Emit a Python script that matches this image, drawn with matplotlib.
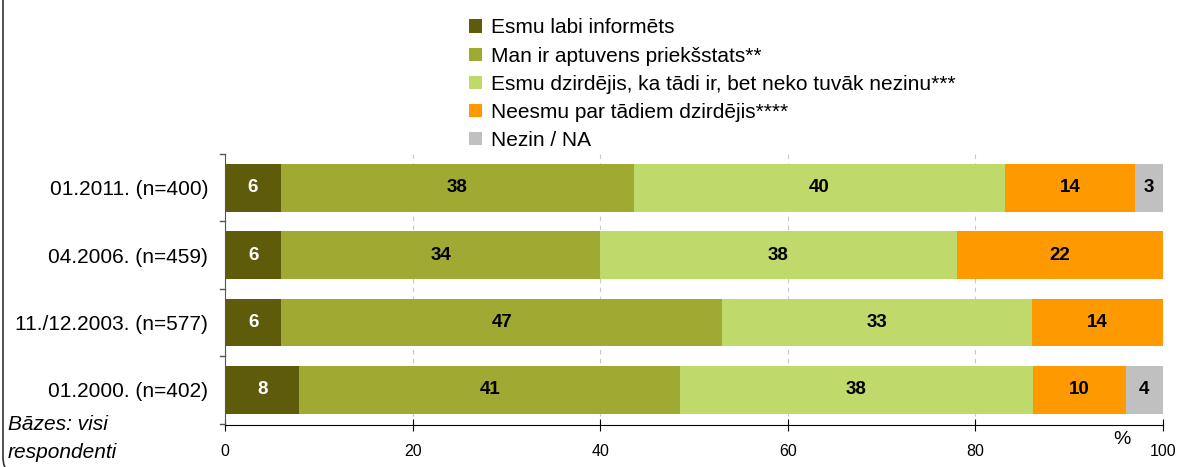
import matplotlib
matplotlib.use("Agg")
import matplotlib.pyplot as plt
from matplotlib.patches import FancyBboxPatch
import numpy as np

# data (percent, rounded as printed)
rows = ["01.2011. (n=400)", "04.2006. (n=459)", "11./12.2003. (n=577)", "01.2000. (n=402)"]
series = [
    "Esmu labi informēts",
    "Man ir aptuvens priekšstats**",
    "Esmu dzirdējis, ka tādi ir, bet neko tuvāk nezinu***",
    "Neesmu par tādiem dzirdējis****",
    "Nezin / NA",
]
labi = [6, 6, 6, 8]
aptuvens = [38, 34, 47, 41]
dzirdejis = [40, 38, 33, 38]
neesmu = [14, 22, 14, 10]
nezin = [3, 0, 0, 4]

colors = ["#5E5B0B", "#A0AA33", "#BFD96A", "#FF9900", "#C0C0C0"]
text_colors = ["white", "black", "black", "black", "black"]

vals = np.array([labi, aptuvens, dzirdejis, neesmu, nezin], dtype=float)
# rows printed as rounded numbers may sum to 101 -> scale each row to 100
widths = vals / vals.sum(axis=0) * 100

plt.rcParams["font.family"] = ["Liberation Sans", "DejaVu Sans"]

fig = plt.figure(figsize=(11.8, 4.67), dpi=100)
ax = fig.add_axes([225 / 1180, 1 - 425 / 467, 938 / 1180, (425 - 154) / 467])

ypos = np.arange(len(rows))[::-1]
left = np.zeros(len(rows))
for i in range(len(series)):
    ax.barh(ypos, widths[i], left=left, height=0.71, color=colors[i],
            label=series[i], zorder=2)
    for j in range(len(rows)):
        if vals[i][j] > 0:
            ax.text(left[j] + widths[i][j] / 2, ypos[j], "%d" % vals[i][j],
                    ha="center", va="center", fontsize=13.5, fontweight="bold",
                    color=text_colors[i], zorder=3)
    left = left + widths[i]

ax.set_xlim(0, 100)
ax.set_ylim(-0.52, 3.5)
ax.set_xticks([0, 20, 40, 60, 80, 100])
ax.tick_params(axis="x", direction="inout", length=8, labelsize=11.5, pad=10)
ax.set_yticks(ypos)
ax.set_yticklabels(rows, fontsize=15)
ax.tick_params(axis="y", length=0, pad=12)
# small tick marks between categories on the left axis
for b in [-0.5, 0.5, 1.5, 2.5, 3.5]:
    ax.plot([-0.0055, 0], [b, b], color="#555555", lw=1, transform=ax.get_yaxis_transform(),
            clip_on=False)
ax.grid(axis="x", color="#C8C8C8", linestyle=(0, (4, 4)), lw=0.8, zorder=0)
ax.spines["top"].set_visible(False)
ax.spines["right"].set_visible(False)
ax.spines["left"].set_color("#555555")

fig.legend(loc="upper left", bbox_to_anchor=(459 / 1180, 1 - 8 / 467), frameon=False,
           fontsize=15, handlelength=0.6, handleheight=0.6, handletextpad=0.45,
           labelspacing=0.44, borderpad=0)

fig.text(8 / 1180, 1 - 425 / 467, "Bāzes: visi", fontsize=15, style="italic", va="center")
fig.text(8 / 1180, 1 - 453 / 467, "respondenti", fontsize=15, style="italic", va="center")
fig.text(1122 / 1180, 1 - 440 / 467, "%", fontsize=14, va="center", ha="center")

border = FancyBboxPatch((0.03, -0.1), 12, 5.2, boxstyle="round,pad=0,rounding_size=0.2",
                        transform=fig.dpi_scale_trans, fill=False, ec="#333333", lw=1.2)
fig.patches.append(border)

fig.savefig("out.png", dpi=100)
